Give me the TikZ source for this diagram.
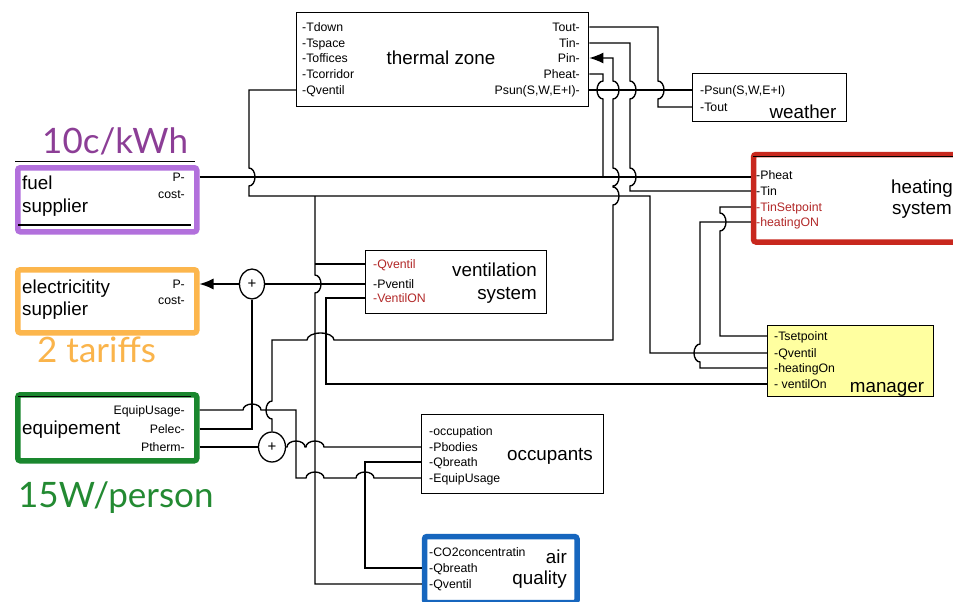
\documentclass[tikz,border=0pt]{standalone}
\usepackage{fontspec}
\setmainfont{Liberation Sans}
\newfontfamily\bigfont{Lato}
\usetikzlibrary{arrows.meta,shapes.geometric}
\definecolor{heatc}{RGB}{200,40,30}
\definecolor{fuelc}{RGB}{178,112,220}
\definecolor{elecc}{RGB}{252,182,77}
\definecolor{equipc}{RGB}{26,135,46}
\definecolor{airc}{RGB}{22,102,190}
\definecolor{mgrc}{RGB}{255,255,160}
\definecolor{lblred}{RGB}{178,40,40}
\definecolor{kwhc}{RGB}{140,62,150}
\definecolor{tarc}{RGB}{250,180,75}
\definecolor{ppc}{RGB}{35,138,50}
\begin{document}
\begin{tikzpicture}[x=1pt,y=-1pt,
 box/.style={draw=black,line width=1.3pt,fill=white,inner sep=0pt,anchor=north west},
 cbox/.style={box,line width=5.5pt,rounded corners=2.5pt},
 pl/.style={font=\fontsize{12.3}{14}\selectfont,inner sep=0pt,text height=8.8pt,text depth=0pt,anchor=west},
 pr/.style={pl,anchor=east},
 hot/.style={text=lblred},
 ttl/.style={font=\fontsize{18.8}{22}\selectfont,inner sep=0pt},
 wire/.style={line width=1.35pt},
 tip/.style={-{Latex[length=14pt,width=11pt]}},
 sumnode/.style={ellipse,draw,line width=1.3pt,fill=white,minimum width=25pt,minimum height=30pt,inner sep=0pt,font=\fontsize{15}{16}\selectfont},
 big/.style={font=\bigfont\fontsize{35}{40}\selectfont,inner sep=0pt,anchor=base west},
 thin/.style={line width=0.8pt}
]
\clip (0,0) rectangle (953,602);
\fill[white] (0,0) rectangle (953,602);

% boxes
\node[box,minimum width=292pt,minimum height=94pt] (tz) at (296,12) {};
\node[box,minimum width=154pt,minimum height=48pt] (wea) at (692,73) {};
\node[cbox,draw=heatc,minimum width=250pt,minimum height=87.5pt] (heat) at (750.75,151.75) {};
\node[cbox,draw=fuelc,minimum width=179pt,minimum height=64pt] (fuel) at (15,165) {};
\node[cbox,draw=elecc,minimum width=179pt,minimum height=63pt] (elec) at (15,267) {};
\node[cbox,draw=equipc,minimum width=179pt,minimum height=66pt] (equip) at (15,392) {};
\node[box,minimum width=181pt,minimum height=63pt] (vent) at (365,250) {};
\node[box,fill=mgrc,minimum width=166pt,minimum height=71pt] (mgr) at (767,325) {};
\node[box,minimum width=182pt,minimum height=79pt] (occ) at (421,414) {};
\node[cbox,draw=airc,minimum width=152.5pt,minimum height=66pt] (air) at (421.75,533.75) {};

\draw[thin] (753,156) -- (953,156);
\draw[thin] (15,161) -- (195,161);
\draw[line width=1.1pt] (18,225) -- (191,225);
\draw[thin] (18,396) -- (191,396);

% thermal zone
\node[pl] (tzTd) at (302,27) {-Tdown};
\node[pl] (tzTs) at (302,43) {-Tspace};
\node[pl] (tzTf) at (302,58) {-Toffices};
\node[pl] (tzTc) at (302,74) {-Tcorridor};
\node[pl] (tzQv) at (302,90) {-Qventil};
\node[pr] (tzTo) at (580,27) {Tout-};
\node[pr] (tzTi) at (580,43) {Tin-};
\node[pr] (tzPi) at (580,58) {Pin-};
\node[pr] (tzPh) at (580,74) {Pheat-};
\node[pr] (tzPs) at (580,90) {Psun(S,W,E+I)-};
\node[ttl,anchor=base] (tzT) at (441,65) {thermal zone};

% weather
\node[pl] (wPs) at (700,90) {-Psun(S,W,E+I)};
\node[pl] (wTo) at (700,107) {-Tout};
\node[ttl,anchor=base] (wT) at (803,118) {weather};

% heating system
\node[pl] (hPh) at (756,175) {-Pheat};
\node[pl] (hTi) at (756,191) {-Tin};
\node[pl,hot] (hTs) at (756,207) {-TinSetpoint};
\node[pl,hot] (hOn) at (756,222) {-heatingON};
\node[ttl,anchor=base] (hT1) at (922,193) {heating};
\node[ttl,anchor=base] (hT2) at (922,214) {system};

% fuel supplier
\node[ttl,anchor=base west] (fT1) at (22,189) {fuel};
\node[ttl,anchor=base west] (fT2) at (22,212) {supplier};
\node[pr] (fP) at (185,177) {P-};
\node[pr] (fC) at (185,194) {cost-};

% electricity supplier
\node[ttl,anchor=base west] (eT1) at (22,293) {electricitity};
\node[ttl,anchor=base west] (eT2) at (22,315) {supplier};
\node[pr] (eP) at (185,284) {P-};
\node[pr] (eC) at (185,300) {cost-};

% equipement
\node[ttl,anchor=base west] (qT) at (22,434) {equipement};
\node[pr] (eqU) at (185,410) {EquipUsage-};
\node[pr] (eqPe) at (185,429) {Pelec-};
\node[pr] (eqPt) at (185,447) {Ptherm-};

% ventilation
\node[pl,hot] (vQv) at (373,264) {-Qventil};
\node[pl] (vPv) at (373,284) {-Pventil};
\node[pl,hot] (vVo) at (373,298) {-VentilON};
\node[ttl,anchor=base east] (vT1) at (537,276) {ventilation};
\node[ttl,anchor=base east] (vT2) at (537,299) {system};

% manager
\node[pl] (mTs) at (774,336) {-Tsetpoint};
\node[pl] (mQv) at (774,353) {-Qventil};
\node[pl] (mOn) at (774,368) {-heatingOn};
\node[pl] (mVo) at (774,384) {- ventilOn};
\node[ttl,anchor=base] (mT) at (887,392) {manager};

% occupants
\node[pl] (oOc) at (429,431) {-occupation};
\node[pl] (oPb) at (429,447) {-Pbodies};
\node[pl] (oQb) at (429,462) {-Qbreath};
\node[pl] (oEU) at (429,478) {-EquipUsage};
\node[ttl,anchor=base] (oT) at (550,460) {occupants};

% air quality
\node[pl] (aCO) at (429,552) {-CO2concentratin};
\node[pl] (aQb) at (429,568) {-Qbreath};
\node[pl] (aQv) at (429,584) {-Qventil};
\node[ttl,anchor=base east] (aT1) at (567,563) {air};
\node[ttl,anchor=base east] (aT2) at (567,584) {quality};

% summing junctions
\node[sumnode] (s1) at (252,284) {+};
\node[sumnode,minimum width=27pt] (s2) at (272,447) {+};

% coloured notes
\node[big,text=kwhc] (kwh) at (42,153) {10c/kWh};
\node[big,text=tarc] (tar) at (37,362) {2 tariffs};
\node[big,text=ppc] (pp) at (18,507) {15W/person};

% wires
\draw[wire] (tz.east |- tzPs) -- (wea.west |- wPs);
\draw[wire] (tz.east |- tzTo) -- (658,27) -- (658,81)
  arc[start angle=90,end angle=-90,x radius=6pt,y radius=9pt] -- (658,107) -- (wea.west |- wTo);
\draw[wire] (tz.east |- tzTi) -- (630,43) -- (630,81)
  arc[start angle=90,end angle=-90,x radius=6pt,y radius=9pt] -- (630,168)
  arc[start angle=90,end angle=-90,x radius=6pt,y radius=9pt] -- (630,191) -- (heat.west |- hTi);
\draw[wire] (tz.east |- tzPh) -- (603,74) -- (603,81)
  arc[start angle=90,end angle=270,x radius=6pt,y radius=9pt] -- (603,177);
\draw[wire] (fuel.east |- fP) -- (heat.west |- fP);
\draw[wire,tip] (s2.north) -- (272,419)
  arc[start angle=270,end angle=90,x radius=6pt,y radius=9pt] -- (272,340) -- (307,340)
  arc[start angle=180,end angle=0,x radius=13.5pt,y radius=7pt] -- (613,340) -- (613,205)
  arc[start angle=-90,end angle=90,x radius=6pt,y radius=9pt] -- (613,186)
  arc[start angle=-90,end angle=90,x radius=6pt,y radius=9pt] -- (613,99)
  arc[start angle=-90,end angle=90,x radius=6pt,y radius=9pt] -- (613,58) -- (tz.east |- tzPi);
\draw[wire] (tz.west |- tzQv) -- (249,90) -- (249,168)
  arc[start angle=90,end angle=-90,x radius=6pt,y radius=9pt] -- (249,196) -- (650,196) -- (650,353) -- (mgr.west |- mQv);
\draw[wire] (315,196) -- (315,275)
  arc[start angle=90,end angle=-90,x radius=6pt,y radius=9pt] -- (315,584) -- (air.west |- aQv);
\draw[wire] (315,264) -- (vent.west |- vQv);
\draw[wire] (vent.west |- vPv) -- (s1.east);
\draw[wire,tip] (s1.west) -- (elec.east |- eP);
\draw[wire] (equip.east |- eqPe) -- (252,429) -- (s1.south);
\draw[wire] (equip.east |- eqU) -- (243,410)
  arc[start angle=180,end angle=0,x radius=9pt,y radius=6pt] -- (296,410) -- (296,478) -- (306,478)
  arc[start angle=180,end angle=0,x radius=9pt,y radius=6pt] -- (356,478)
  arc[start angle=180,end angle=0,x radius=9pt,y radius=6pt] -- (occ.west |- oEU);
\draw[wire] (equip.east |- eqPt) -- (s2.west);
\draw[wire] (occ.west |- oPb) -- (324,447)
  arc[start angle=0,end angle=180,x radius=9pt,y radius=6pt] -- (305,447)
  arc[start angle=0,end angle=180,x radius=9pt,y radius=6pt] -- (s2.east);
\draw[wire] (occ.west |- oQb) -- (365,462) -- (365,568) -- (air.west |- aQb);
\draw[wire] (vent.west |- vVo) -- (326,298) -- (326,384) -- (mgr.west |- mVo);
\draw[wire] (heat.west |- hTs) -- (720,207) -- (720,213)
  arc[start angle=90,end angle=-90,x radius=6pt,y radius=9pt] -- (720,336) -- (mgr.west |- mTs);
\draw[wire] (heat.west |- hOn) -- (700,222) -- (700,344)
  arc[start angle=90,end angle=270,x radius=6pt,y radius=9pt] -- (700,368) -- (mgr.west |- mOn);
\end{tikzpicture}
\end{document}
